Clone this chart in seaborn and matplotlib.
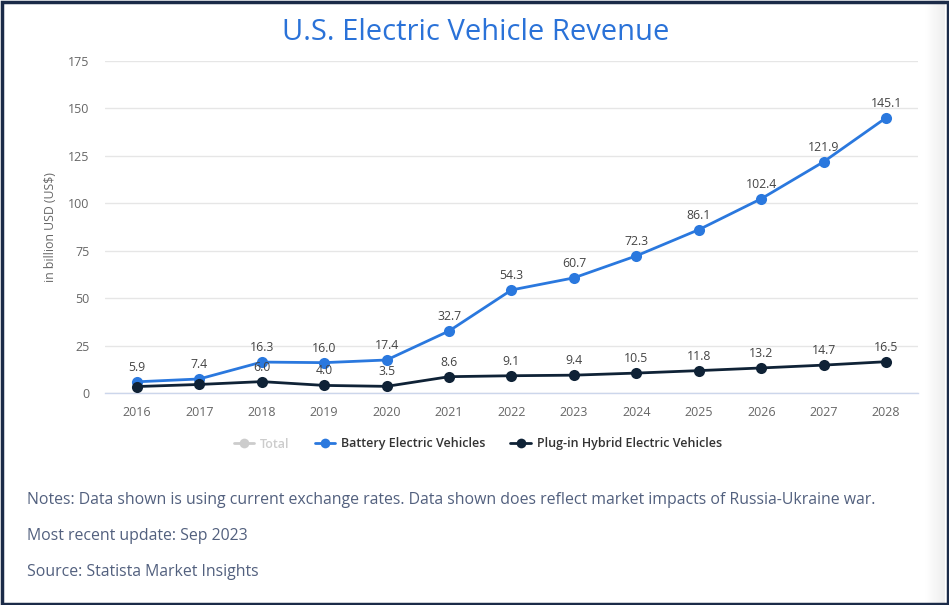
import pandas as pd
import matplotlib.pyplot as plt
import seaborn as sns
import numpy as np
from matplotlib.lines import Line2D
from matplotlib.patches import Rectangle

# data
years = list(range(2016, 2029))
bev = [5.9, 7.4, 16.3, 16.0, 17.4, 32.7, 54.3, 60.7, 72.3, 86.1, 102.4, 121.9, 145.1]
phev = [3.4, 4.5, 6.0, 4.0, 3.5, 8.6, 9.1, 9.4, 10.5, 11.8, 13.2, 14.7, 16.5]
phev_labelled = [False, False] + [True] * 11
series_names = ['Battery Electric Vehicles', 'Plug-in Hybrid Electric Vehicles']
y_ticks = [0, 25, 50, 75, 100, 125, 150, 175]

blue = '#2a78de'
navy = '#0f2236'
grey_total = '#cccccc'

df = pd.DataFrame({
    'year': years * 2,
    'value': bev + phev,
    'series': [series_names[0]] * len(years) + [series_names[1]] * len(years),
})

sns.set_theme(style='white')
plt.rcParams['font.family'] = ['Open Sans', 'DejaVu Sans']

fig = plt.figure(figsize=(9.49, 6.05), dpi=100)
ax = fig.add_axes([105 / 949, 1 - 393 / 605, (918 - 105) / 949, (393 - 61) / 605])

sns.lineplot(data=df, x='year', y='value', hue='series', hue_order=series_names,
             palette=[blue, navy], marker='o', markersize=8, markeredgewidth=0,
             linewidth=2, ax=ax, legend=False, zorder=3)

# value labels
for x, v in zip(years, bev):
    ax.annotate(f'{v:.1f}', (x, v), xytext=(0, 10.5), textcoords='offset points',
                ha='center', va='center', fontsize=8.8, color='#444444', zorder=4)
for x, v, show in zip(years, phev, phev_labelled):
    if show:
        ax.annotate(f'{v:.1f}', (x, v), xytext=(0, 10.5), textcoords='offset points',
                    ha='center', va='center', fontsize=8.8, color='#444444', zorder=4)

ax.set_xlim(2015.49, 2028.51)
ax.set_ylim(0, 175)
ax.set_xticks(years)
ax.set_yticks(y_ticks)
ax.tick_params(axis='both', length=0, labelsize=9, labelcolor='#666666')
ax.tick_params(axis='y', pad=11)
ax.tick_params(axis='x', pad=9)
ax.yaxis.grid(True, color='#e6e6e6', linewidth=1)
ax.set_axisbelow(True)
for s in ['top', 'right', 'left']:
    ax.spines[s].set_visible(False)
ax.spines['bottom'].set_color('#ccd6eb')
ax.spines['bottom'].set_linewidth(1)
ax.set_xlabel('')
ax.set_ylabel('in billion USD (US$)', fontsize=8.8, color='#666666', labelpad=8)

# legend
handles = [
    Line2D([], [], color=grey_total, marker='o', markersize=7, linewidth=2, markeredgewidth=0),
    Line2D([], [], color=blue, marker='o', markersize=7, linewidth=2, markeredgewidth=0),
    Line2D([], [], color=navy, marker='o', markersize=7, linewidth=2, markeredgewidth=0),
]
leg = fig.legend(handles, ['Total'] + series_names, loc='center', ncol=3,
                 bbox_to_anchor=(478 / 949, 1 - 444 / 605), frameon=False,
                 fontsize=9, handlelength=1.6, columnspacing=2.0, handletextpad=0.5)
for t, c in zip(leg.get_texts(), ['#cccccc', '#333333', '#333333']):
    t.set_color(c)
    t.set_fontweight('semibold')

# title and notes
fig.text(476 / 949, 1 - 33 / 605, 'U.S. Electric Vehicle Revenue', ha='center', va='center',
         fontsize=21, color='#2a72d8')
notes = ['Notes: Data shown is using current exchange rates. Data shown does reflect market impacts of Russia-Ukraine war.',
         'Most recent update: Sep 2023',
         'Source: Statista Market Insights']
for i, line in enumerate(notes):
    fig.text(27 / 949, 1 - (500 + 36 * i) / 605, line, ha='left', va='center',
             fontsize=11.4, color='#52607e')

# soft shade near the right edge and the dark frame
shade = fig.add_axes([925 / 949, 0, 20 / 949, 1])
shade.imshow(np.linspace(1.0, 0.93, 50).reshape(1, -1), cmap='gray', vmin=0, vmax=1,
             aspect='auto', extent=[0, 1, 0, 1])
shade.set_axis_off()
fig.patches.append(Rectangle((1.5 / 949, 1.5 / 605), 1 - 3 / 949, 1 - 3 / 605,
                             transform=fig.transFigure, fill=False,
                             edgecolor='#1b2b48', linewidth=2.5))

fig.savefig('out.png', dpi=100)
